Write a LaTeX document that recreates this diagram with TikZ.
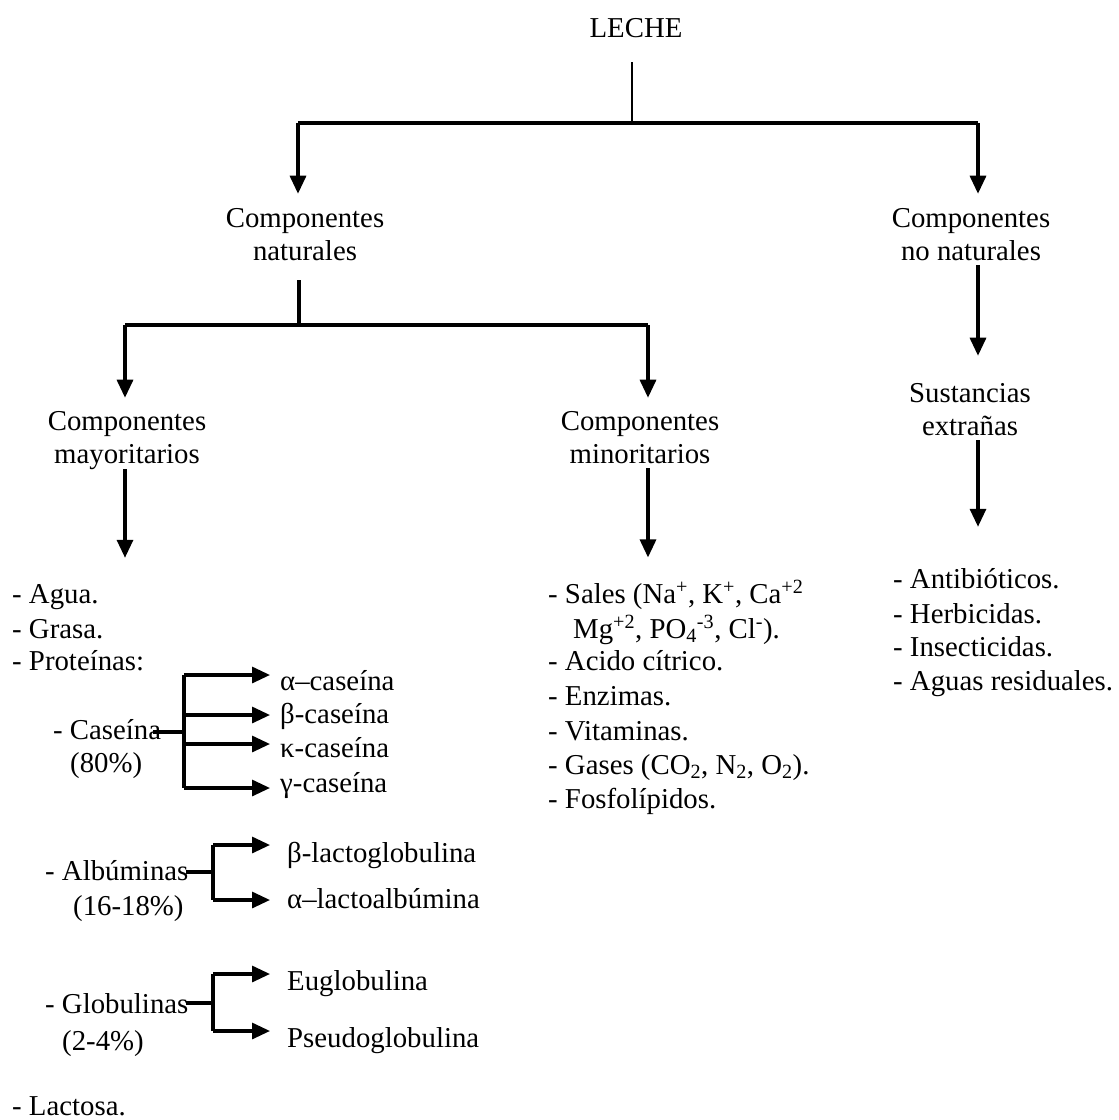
\documentclass[tikz,border=0pt]{standalone}
\usepackage{fontspec}
\setmainfont{Liberation Serif}
\usetikzlibrary{arrows.meta}
\begin{document}
\begin{tikzpicture}[x=1pt,y=-1pt,
  txt/.style={font=\fontsize{28.8}{33}\selectfont, inner sep=0pt, align=center, anchor=base},
  lft/.style={font=\fontsize{28.8}{33}\selectfont, inner sep=0pt, anchor=base west},
  ln/.style={line width=3.2pt},
  arrowline/.style={ln,-{Triangle[length=18pt,width=16pt]}},
]
\useasboundingbox (0,0) rectangle (1119,1120);

% ---- headings (base anchor = baseline of the last line)
\node[txt] (leche) at (636,37) {LECHE};
\node[txt] (cnat) at (305,260) {Componentes\\naturales};
\node[txt] (cnon) at (971,260) {Componentes\\no naturales};
\node[txt] (cmay) at (127,463) {Componentes\\mayoritarios};
\node[txt] (cmin) at (640,463) {Componentes\\minoritarios};
\node[txt] (sust) at (970,435) {Sustancias\\extrañas};

% ---- left list
\node[lft] (agua) at (12,603) {- Agua.};
\node[lft] (grasa) at (12,638) {- Grasa.};
\node[lft] (prot) at (12,670) {- Proteínas:};
\node[lft] (cas1) at (53,739) {- Caseína};
\node[lft] (cas2) at (70,772) {(80\%)};
\node[lft] (ca1) at (280,690) {α–caseína};
\node[lft] (ca2) at (280,723) {β-caseína};
\node[lft] (ca3) at (280,757) {κ-caseína};
\node[lft] (ca4) at (280,792) {γ-caseína};
\node[lft] (alb1) at (45,880) {- Albúminas};
\node[lft] (alb2) at (73,915) {(16-18\%)};
\node[lft] (lb1) at (287,862) {β-lactoglobulina};
\node[lft] (lb2) at (287,908) {α–lactoalbúmina};
\node[lft] (gl1) at (45,1013) {- Globulinas};
\node[lft] (gl2) at (62,1050) {(2-4\%)};
\node[lft] (eu) at (287,990) {Euglobulina};
\node[lft] (ps) at (287,1047) {Pseudoglobulina};
\node[lft] (lact) at (12,1115) {- Lactosa.};

% ---- middle list
\node[lft] (sales) at (548,603) {- Sales (Na\textsuperscript{+}, K\textsuperscript{+}, Ca\textsuperscript{+2}};
\node[lft] (sales2) at (573,638) {Mg\textsuperscript{+2}, PO\textsubscript{4}\textsuperscript{-3}, Cl\textsuperscript{-}).};
\node[lft] (acido) at (548,670) {- Acido cítrico.};
\node[lft] (enz) at (548,705) {- Enzimas.};
\node[lft] (vit) at (548,740) {- Vitaminas.};
\node[lft] (gases) at (548,774) {- Gases (CO\textsubscript{2}, N\textsubscript{2}, O\textsubscript{2}).};
\node[lft] (fosf) at (548,808) {- Fosfolípidos.};

% ---- right list
\node[lft] (ant) at (893,588) {- Antibióticos.};
\node[lft] (herb) at (893,623) {- Herbicidas.};
\node[lft] (insec) at (893,656) {- Insecticidas.};
\node[lft] (aguas) at (893,690) {- Aguas residuales.};

% ---- junction coordinates
\coordinate (t1) at (632,123);
\coordinate (t1l) at (298,123);
\coordinate (t1r) at (978,123);
\coordinate (t2) at (299,325);
\coordinate (t2l) at (125,325);
\coordinate (t2r) at (648,325);

% ---- top level
\draw[ln, line width=2.6pt, shorten <=25pt] (t1 |- leche.south) -- (t1);
\draw[ln] (t1l) -- (t1r);
\draw[arrowline, shorten >=14pt] (t1l) -- (t1l |- cnat.north);
\draw[arrowline, shorten >=14pt] (t1r) -- (t1r |- cnon.north);

% ---- natural components
\draw[ln, shorten <=20pt] (t2 |- cnat.south) -- (t2);
\draw[ln] (t2l) -- (t2r);
\draw[arrowline, shorten >=13pt] (t2l) -- (t2l |- cmay.north);
\draw[arrowline, shorten >=13pt] (t2r) -- (t2r |- cmin.north);
\draw[arrowline, shorten >=26pt] (cmay.south -| t2l) -- (agua.north -| t2l);
\draw[arrowline, shorten <=5pt, shorten >=23pt] (cmin.south -| t2r) -- (sales.north -| t2r);

% ---- non natural
\draw[arrowline, shorten <=5pt, shorten >=27pt] (cnon.south -| t1r) -- (sust.north -| t1r);
\draw[arrowline, shorten <=5pt, shorten >=41pt] (sust.south -| t1r) -- (ant.north -| t1r);

% ---- caseina bracket
\coordinate (cb) at (184,732);
\coordinate (cbt) at (184,675);
\coordinate (cb2) at (184,715);
\coordinate (cb3) at (184,744);
\coordinate (cbb) at (184,788);
\draw[ln] ([xshift=-8pt]cb -| cas1.east) -- (cb);
\draw[ln] (cbt) -- (cbb);
\draw[arrowline, shorten >=10pt] (cbt) -- (cbt -| ca1.west);
\draw[arrowline, shorten >=10pt] (cb2) -- (cb2 -| ca2.west);
\draw[arrowline, shorten >=10pt] (cb3) -- (cb3 -| ca3.west);
\draw[arrowline, shorten >=10pt] (cbb) -- (cbb -| ca4.west);

% ---- albuminas bracket
\coordinate (ab) at (213,872);
\coordinate (abt) at (213,845);
\coordinate (abb) at (213,900);
\draw[ln] ([xshift=-3pt]ab -| alb1.east) -- (ab);
\draw[ln] (abt) -- (abb);
\draw[arrowline, shorten >=17pt] (abt) -- (abt -| lb1.west);
\draw[arrowline, shorten >=17pt] (abb) -- (abb -| lb2.west);

% ---- globulinas bracket
\coordinate (gb) at (213,1003);
\coordinate (gbt) at (213,974);
\coordinate (gbb) at (213,1031);
\draw[ln] ([xshift=-3pt]gb -| gl1.east) -- (gb);
\draw[ln] (gbt) -- (gbb);
\draw[arrowline, shorten >=17pt] (gbt) -- (gbt -| eu.west);
\draw[arrowline, shorten >=17pt] (gbb) -- (gbb -| ps.west);
\end{tikzpicture}
\end{document}
